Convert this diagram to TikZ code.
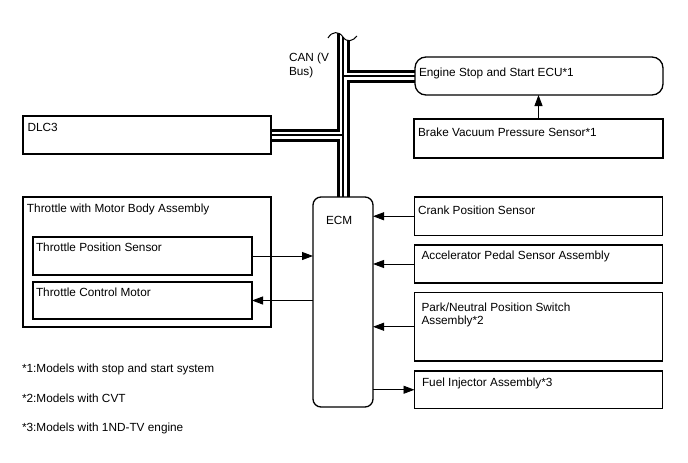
\documentclass[tikz,border=0pt]{standalone}
\usepackage{fontspec}
\setmainfont{Liberation Sans}
\usetikzlibrary{arrows.meta,backgrounds,calc}
\newcommand\diafont{\fontsize{11.8pt}{13.4pt}\selectfont}
\tikzset{
  box/.style={draw, line width=1.3pt, inner sep=0pt, outer sep=0pt, anchor=north west},
  txt/.style={anchor=base west, inner sep=0pt, outer sep=0pt, font=\diafont, align=left},
  arr/.style={line width=0.9pt, -{Triangle[length=11pt,width=8pt]}},
  busblack/.style={line width=13pt, black},
  buswhite/.style={line width=7pt, white},
  buscore/.style={line width=1.4pt, black},
}
\begin{document}
\begin{tikzpicture}[x=1pt,y=-1pt]
\useasboundingbox (0,0) rectangle (688,463);
% boxes
\node[box, rounded corners=11pt, minimum width=248pt, minimum height=38pt] (ecu) at (415,57) {};
\node[box, minimum width=249pt, minimum height=39pt] (brake) at (414,119) {};
\node[box, minimum width=248pt, minimum height=38pt] (dlc) at (23,116) {};
\node[box, minimum width=248pt, minimum height=130pt] (tmb) at (23,197) {};
\node[box, minimum width=219pt, minimum height=38pt] (tps) at (33,237) {};
\node[box, minimum width=219pt, minimum height=37pt] (tcm) at (33,282) {};
\node[box, rounded corners=8pt, minimum width=60pt, minimum height=210pt] (ecm) at (313,197) {};
\node[box, minimum width=248pt, minimum height=38.5pt] (crank) at (414.5,197) {};
\node[box, minimum width=248pt, minimum height=38pt] (accel) at (414.5,245) {};
\node[box, minimum width=248pt, minimum height=68.5pt] (park) at (414.5,292.5) {};
\node[box, minimum width=248pt, minimum height=37.5pt] (fuel) at (414.5,371) {};
% texts
\node[txt] (tecu) at ([xshift=4pt,yshift=-19pt]ecu.north west) {Engine Stop and Start ECU*1};
\node[txt] (tbrake) at ([xshift=4pt,yshift=-17pt]brake.north west) {Brake Vacuum Pressure Sensor*1};
\node[txt] (tdlc) at ([xshift=4.5pt,yshift=-15pt]dlc.north west) {DLC3};
\node[txt] (ttmb) at ([xshift=4pt,yshift=-15.7pt]tmb.north west) {Throttle with Motor Body Assembly};
\node[txt] (ttps) at ([xshift=3pt,yshift=-14.7pt]tps.north west) {Throttle Position Sensor};
\node[txt] (ttcm) at ([xshift=3pt,yshift=-14.7pt]tcm.north west) {Throttle Control Motor};
\node[txt] (tecm) at ([xshift=13pt,yshift=-27pt]ecm.north west) {ECM};
\node[txt] (tcrank) at ([xshift=3.5pt,yshift=-17pt]crank.north west) {Crank Position Sensor};
\node[txt] (taccel) at ([xshift=7pt,yshift=-14.3pt]accel.north west) {Accelerator Pedal Sensor Assembly};
\node[txt] (tpark) at ([xshift=7pt,yshift=-31.9pt]park.north west) {Park/Neutral Position Switch\\Assembly*2};
\node[txt] (tfuel) at ([xshift=7.5pt,yshift=-15pt]fuel.north west) {Fuel Injector Assembly*3};
\node[txt] (tcan) at (289,75) {CAN (V\\Bus)};
\node[txt] (n1) at (22,372.7) {*1:Models with stop and start system};
\node[txt] (n2) at (22,402.7) {*2:Models with CVT};
\node[txt] (n3) at (22,431.7) {*3:Models with 1ND-TV engine};
% arrows
\draw[arr] (brake.north) -- (brake.north |- ecu.south);
\draw[arr] (crank.west) -- (crank.west -| ecm.east);
\draw[arr] (accel.west) -- (accel.west -| ecm.east);
\draw[arr] (park.west) -- (park.west -| ecm.east);
\draw[arr] (fuel.west -| ecm.east) -- (fuel.west);
\draw[arr] (tps.east) -- (tps.east -| ecm.west);
\draw[arr] (tcm.east -| ecm.west) -- (tcm.east);
% CAN bus
\coordinate (bustop) at (343,28);
\begin{scope}[on background layer]
  \foreach \st in {busblack,buswhite,buscore}{
    \draw[\st] (bustop) -- (ecm.north);
    \draw[\st] (dlc.east) -- (dlc.east -| ecm.north);
    \draw[\st] (ecu.west) -- (ecu.west -| ecm.north);
  }
  \fill[white] (327,38) .. controls (332,31) and (339,31) .. (343,37)
     .. controls (347,43) and (353,41) .. (358,35) -- (358,20) -- (327,20) -- cycle;
\end{scope}
\draw[line width=1pt] (328,38) .. controls (332,31) and (339,31) .. (343,37)
     .. controls (347,43) and (353,41) .. (357,36);
\end{tikzpicture}
\end{document}
